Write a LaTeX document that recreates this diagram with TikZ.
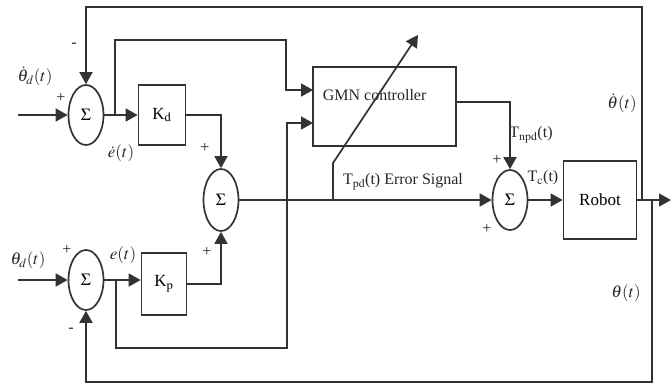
\documentclass[tikz,border=0pt]{standalone}
\usepackage{mathptmx}
\usepackage{fontspec}
\setmainfont{Liberation Serif}
\usetikzlibrary{arrows.meta,shapes.geometric}
\begin{document}
\begin{tikzpicture}[x=1pt,y=-1pt,
  line width=1.7pt, draw=black!80,
  arr/.style={-{Triangle[length=12pt,width=13pt]}},
  sumnode/.style={ellipse,draw,minimum width=35pt,minimum height=60pt,inner sep=0pt,font=\fontsize{17}{19}\selectfont},
  blk/.style={draw,inner sep=0pt,font=\fontsize{17}{20}\selectfont},
  lbl/.style={inner sep=0pt,font=\fontsize{16}{19}\selectfont,text=black!85},
  mlbl/.style={inner sep=0pt,font=\fontsize{17}{20}\selectfont,text=black!85}]
\useasboundingbox (0,0) rectangle (671,384);
% summing junctions
\node[sumnode] (s1) at (86,115) {$\Sigma$};
\node[sumnode] (s2) at (86,280) {$\Sigma$};
\node[sumnode,minimum height=62pt] (s3) at (221,200) {$\Sigma$};
\node[sumnode] (s4) at (510,200) {$\Sigma$};
% blocks
\node[blk,minimum width=47pt,minimum height=60pt] (kd) at (162,115) {K$_\mathrm{d}$};
\node[blk,minimum width=45pt,minimum height=62pt] (kp) at (164,284) {K$_\mathrm{p}$};
\node[blk,minimum width=143pt,minimum height=79pt] (gmn) at (384.5,106.5) {};
\node[lbl,anchor=west] (gmnt) at (322,95) {GMN controller};
\node[blk,minimum width=73pt,minimum height=78pt] (robot) at (600,200) {Robot};
% coordinates
\coordinate (in1) at (18,115);
\coordinate (in2) at (18,280);
\coordinate (b1) at (115,115);
\coordinate (b2) at (116,280);
\coordinate (c1) at (286,40);
\coordinate (g1) at (313,90);
\coordinate (c2) at (287,348);
\coordinate (g2) at (313,123);
\coordinate (go) at (456,102);
\coordinate (eb) at (333,200);
\coordinate (ek) at (333,163);
\coordinate (et) at (418,35);
\coordinate (ro) at (642,200);
\coordinate (rf) at (652,200);
\coordinate (out) at (671,200);
\coordinate (top) at (642,7);
\coordinate (bot) at (652,382);
% connectors
\draw[arr] (in1) -- (s1.west);
\draw[arr] (in2) -- (s2.west);
\draw[arr] (s1.east) -- (kd.west);
\draw[arr] (s2.east) -- (s2.east -| kp.west);
\draw[arr] (b1) |- (c1) |- (g1);
\draw[arr] (b2) |- (c2) |- (g2);
\draw[arr] (kd.east) -| (s3.north);
\draw[arr] (kp.east) -| (s3.south);
\draw[arr] (s3.east) -- (s4.west);
\draw[arr] (eb) -- (ek) -- (et);
\draw[arr] (go) -| (s4.north);
\draw[arr] (s4.east) -- (robot.west);
\draw[arr] (robot.east) -- (out);
\draw[arr] (ro) -- (top) -| (s1.north);
\draw[arr] (rf) -- (bot) -| (s2.south);
% labels
\node[mlbl] (l1) at (35,76) {$\dot\theta_d(t)$};
\node[lbl] (p1) at (61,98) {+};
\node[lbl] (m1) at (74,45) {-};
\node[mlbl] (l2) at (121,153) {$\dot e(t)$};
\node[mlbl] (l3) at (28,260) {$\theta_d(t)$};
\node[lbl] (p2) at (67,250) {+};
\node[lbl] (m2) at (71,330) {-};
\node[mlbl] (l4) at (123,255) {$e(t)$};
\node[lbl] (p3) at (205,148) {+};
\node[lbl] (p4) at (207,252) {+};
\node[lbl] (l5) at (403,182) {T$_\mathrm{pd}$(t) Error Signal};
\node[lbl] (l6) at (531,135) {T$_\mathrm{npd}$(t)};
\node[lbl] (p5) at (497,160) {+};
\node[lbl] (p6) at (487,229) {+};
\node[lbl] (l7) at (543,178) {T$_\mathrm{c}$(t)};
\node[mlbl] (l8) at (622,103) {$\dot\theta(t)$};
\node[mlbl] (l9) at (626,293) {$\theta(t)$};
\end{tikzpicture}
\end{document}
